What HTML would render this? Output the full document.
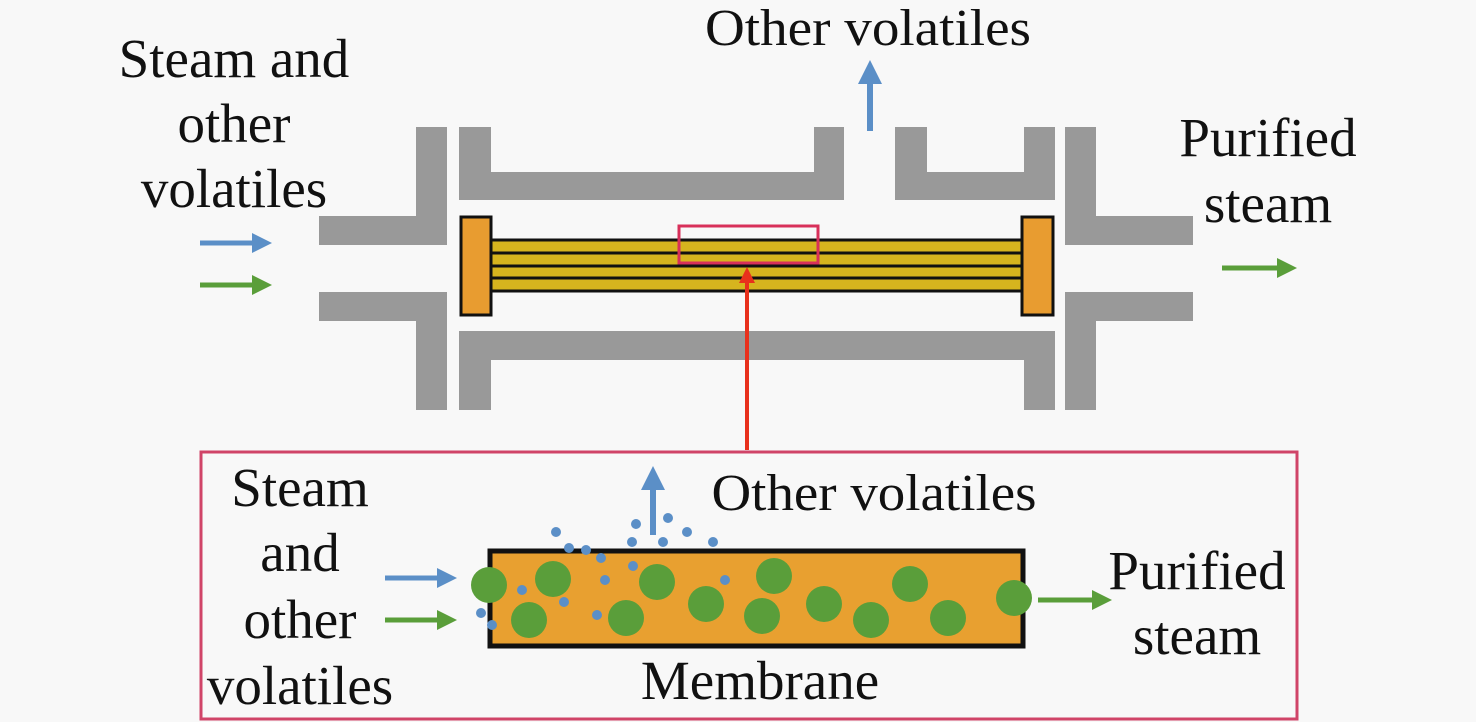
<!DOCTYPE html>
<html><head><style>html,body{margin:0;padding:0;background:#f8f8f8}svg{display:block}text{font-family:"Liberation Serif",serif;fill:#111}</style></head>
<body>
<svg width="1476" height="722" viewBox="0 0 1476 722" xmlns="http://www.w3.org/2000/svg">
<defs>
<marker id="ab" markerWidth="4" markerHeight="4" refX="2" refY="2" orient="auto" markerUnits="strokeWidth"><path d="M0,0 L4,2 L0,4 z" fill="#5b8fc7"/></marker>
<marker id="ag" markerWidth="4" markerHeight="4" refX="2" refY="2" orient="auto" markerUnits="strokeWidth"><path d="M0,0 L4,2 L0,4 z" fill="#5a9e3a"/></marker>
<marker id="ar" markerWidth="4" markerHeight="4" refX="2" refY="2" orient="auto" markerUnits="strokeWidth"><path d="M0,0 L4,2 L0,4 z" fill="#e8301c"/></marker>
</defs>
<g fill="#999">
<rect x="416" y="127" width="31" height="118"/><rect x="319" y="216" width="128" height="29"/>
<rect x="416" y="292" width="31" height="118"/><rect x="319" y="292" width="128" height="29"/>
<rect x="1065" y="127" width="31" height="118"/><rect x="1065" y="216" width="128" height="29"/>
<rect x="1065" y="292" width="31" height="118"/><rect x="1065" y="292" width="128" height="29"/>
<rect x="459" y="127" width="32" height="73"/><rect x="459" y="172" width="385" height="28"/><rect x="814" y="127" width="30" height="73"/>
<rect x="895" y="127" width="32" height="73"/><rect x="895" y="172" width="160" height="28"/><rect x="1024" y="127" width="31" height="73"/>
<rect x="459" y="331" width="596" height="29"/><rect x="459" y="331" width="32" height="79"/><rect x="1024" y="331" width="31" height="79"/>
</g>
<rect x="491" y="239" width="532" height="53" fill="#d6b41e"/>
<g stroke="#111" stroke-width="3">
<line x1="491" y1="240" x2="1023" y2="240"/><line x1="491" y1="253" x2="1023" y2="253"/><line x1="491" y1="266" x2="1023" y2="266"/><line x1="491" y1="278" x2="1023" y2="278"/><line x1="491" y1="291" x2="1023" y2="291"/>
</g>
<rect x="461" y="217" width="30" height="98" fill="#e89c30" stroke="#111" stroke-width="3"/>
<rect x="1022" y="217" width="31" height="98" fill="#e89c30" stroke="#111" stroke-width="3"/>
<rect x="679" y="226" width="139" height="37" fill="none" stroke="#d8305a" stroke-width="3"/>
<line x1="747" y1="450" x2="747" y2="275" stroke="#e8301c" stroke-width="4" marker-end="url(#ar)"/>
<line x1="200" y1="243" x2="262" y2="243" stroke="#5b8fc7" stroke-width="5" marker-end="url(#ab)"/>
<line x1="200" y1="285" x2="262" y2="285" stroke="#5a9e3a" stroke-width="5" marker-end="url(#ag)"/>
<line x1="1222" y1="268" x2="1287" y2="268" stroke="#5a9e3a" stroke-width="5" marker-end="url(#ag)"/>
<line x1="870" y1="131" x2="870" y2="72" stroke="#5b8fc7" stroke-width="6" marker-end="url(#ab)"/>
<text x="868" y="45" font-size="52" text-anchor="middle" textLength="326" lengthAdjust="spacingAndGlyphs">Other volatiles</text>
<text x="234" y="77" font-size="55" text-anchor="middle">Steam and</text>
<text x="234" y="142" font-size="55" text-anchor="middle">other</text>
<text x="234" y="207" font-size="55" text-anchor="middle">volatiles</text>
<text x="1268" y="156" font-size="55" text-anchor="middle">Purified</text>
<text x="1268" y="222" font-size="55" text-anchor="middle">steam</text>
<rect x="201" y="452" width="1096" height="267" fill="none" stroke="#d04468" stroke-width="3"/>
<rect x="490" y="551" width="533" height="95" fill="#e8a030" stroke="#111" stroke-width="5"/>
<g fill="#5a9e3a">
<circle cx="489" cy="585" r="18"/><circle cx="553" cy="579" r="18"/><circle cx="529" cy="620" r="18"/><circle cx="657" cy="582" r="18"/><circle cx="626" cy="618" r="18"/><circle cx="706" cy="604" r="18"/><circle cx="774" cy="576" r="18"/><circle cx="762" cy="616" r="18"/><circle cx="824" cy="604" r="18"/><circle cx="871" cy="620" r="18"/><circle cx="910" cy="584" r="18"/><circle cx="948" cy="618" r="18"/><circle cx="1014" cy="598" r="18"/>
</g>
<g fill="#5b8fc7">
<circle cx="556" cy="532" r="5"/><circle cx="569" cy="548" r="5"/><circle cx="586" cy="550" r="5"/><circle cx="601" cy="558" r="5"/><circle cx="632" cy="542" r="5"/><circle cx="663" cy="542" r="5"/><circle cx="636" cy="524" r="5"/><circle cx="668" cy="518" r="5"/><circle cx="687" cy="532" r="5"/><circle cx="713" cy="542" r="5"/><circle cx="633" cy="566" r="5"/><circle cx="605" cy="580" r="5"/><circle cx="564" cy="602" r="5"/><circle cx="597" cy="615" r="5"/><circle cx="725" cy="580" r="5"/><circle cx="481" cy="613" r="5"/><circle cx="492" cy="625" r="5"/><circle cx="522" cy="590" r="5"/>
</g>
<line x1="653" y1="535" x2="653" y2="478" stroke="#5b8fc7" stroke-width="6" marker-end="url(#ab)"/>
<line x1="385" y1="578" x2="447" y2="578" stroke="#5b8fc7" stroke-width="5" marker-end="url(#ab)"/>
<line x1="385" y1="620" x2="447" y2="620" stroke="#5a9e3a" stroke-width="5" marker-end="url(#ag)"/>
<line x1="1038" y1="600" x2="1102" y2="600" stroke="#5a9e3a" stroke-width="5" marker-end="url(#ag)"/>
<text x="874" y="510" font-size="52" text-anchor="middle" textLength="325" lengthAdjust="spacingAndGlyphs">Other volatiles</text>
<text x="300" y="506" font-size="55" text-anchor="middle">Steam</text>
<text x="300" y="571" font-size="55" text-anchor="middle">and</text>
<text x="300" y="638" font-size="55" text-anchor="middle">other</text>
<text x="300" y="704" font-size="55" text-anchor="middle">volatiles</text>
<text x="1197" y="589" font-size="55" text-anchor="middle">Purified</text>
<text x="1197" y="654" font-size="55" text-anchor="middle">steam</text>
<text x="760" y="699" font-size="55" text-anchor="middle">Membrane</text>
</svg>
</body></html>
